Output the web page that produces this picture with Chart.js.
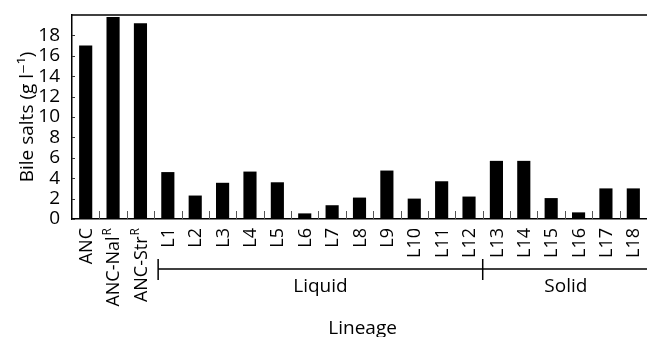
<!DOCTYPE html>
<html><head><meta charset="utf-8">
<script src="https://cdn.jsdelivr.net/npm/chart.js@4"></script>
<style>html,body{margin:0;padding:0;background:#fff}#wrap{width:647px;height:337px}</style>
</head><body><div id="wrap"><canvas id="c" width="647" height="337"></canvas></div>
<script>
const categories = ["ANC","ANC-Nal","ANC-Str","L1","L2","L3","L4","L5","L6","L7","L8","L9","L10","L11","L12","L13","L14","L15","L16","L17","L18"];
const superscripts = ["","R","R","","","","","","","","","","","","","","","","","",""];
const bileSalts = [17.0,19.8,19.2,4.6,2.3,3.55,4.65,3.6,0.55,1.35,2.1,4.75,2.0,3.7,2.2,5.7,5.7,2.05,0.65,3.0,3.0];
const yTicks = [0,2,4,6,8,10,12,14,16,18];
const groups = [{label:"Liquid", from:3, to:14},{label:"Solid", from:15, to:20}];
const FONT = "'Open Sans', 'DejaVu Sans', sans-serif";

const deco = {
  id:'deco',
  afterDraw(chart){
    const ctx = chart.ctx, a = chart.chartArea, xs = chart.scales.x, ys = chart.scales.y;
    const step = xs.getPixelForValue(1) - xs.getPixelForValue(0);
    ctx.save();
    // top frame line
    ctx.strokeStyle = '#000'; ctx.lineWidth = 1.5;
    ctx.beginPath(); ctx.moveTo(a.left, a.top); ctx.lineTo(a.right, a.top); ctx.stroke();
    // inward x ticks between categories
    ctx.strokeStyle = '#555'; ctx.lineWidth = 1;
    for (let i = 1; i < categories.length; i++) {
      const x = Math.round(xs.getPixelForValue(i) - step/2) + 0.5;
      ctx.beginPath(); ctx.moveTo(x, a.bottom); ctx.lineTo(x, a.bottom - 8); ctx.stroke();
    }
    // inward y ticks
    ctx.strokeStyle = '#333';
    yTicks.forEach(v => {
      const y = Math.round(ys.getPixelForValue(v)) + 0.5;
      ctx.beginPath(); ctx.moveTo(a.left, y); ctx.lineTo(a.left + 3, y); ctx.stroke();
    });
    // x category labels (rotated, with superscripts)
    ctx.fillStyle = '#000';
    categories.forEach((lab, i) => {
      const x = xs.getPixelForValue(i);
      ctx.save();
      ctx.translate(x, a.bottom + 9);
      ctx.rotate(-Math.PI/2);
      ctx.textBaseline = 'middle'; ctx.textAlign = 'left';
      ctx.font = "18px " + FONT;
      const wMain = ctx.measureText(lab).width;
      ctx.font = "12px " + FONT;
      const wSup = superscripts[i] ? ctx.measureText(superscripts[i]).width + 1 : 0;
      const total = wMain + wSup;
      ctx.font = "18px " + FONT;
      ctx.fillText(lab, -total, 1);
      if (superscripts[i]) {
        ctx.font = "12px " + FONT;
        ctx.fillText(superscripts[i], -wSup + 1, -5);
      }
      ctx.restore();
    });
    // group brackets
    const lineY = a.bottom + 50;
    ctx.strokeStyle = '#000'; ctx.lineWidth = 1.5;
    const x0 = xs.getPixelForValue(groups[0].from) - step/2 + 4;
    const x1 = xs.getPixelForValue(groups[1].from) - step/2;
    const x2 = chart.width;
    ctx.beginPath(); ctx.moveTo(x0, lineY); ctx.lineTo(x2, lineY); ctx.stroke();
    [x0, x1].forEach(x => { ctx.beginPath(); ctx.moveTo(x, lineY - 10); ctx.lineTo(x, lineY + 11); ctx.stroke(); });
    ctx.fillStyle = '#000'; ctx.font = "19px " + FONT; ctx.textAlign = 'center'; ctx.textBaseline = 'middle';
    ctx.fillText(groups[0].label, (x0 + x1)/2, lineY + 18);
    ctx.fillText(groups[1].label, (x1 + x2)/2 + 1, lineY + 18);
    ctx.fillText("Lineage", (x0 + x2)/2 - 40, lineY + 60);
    ctx.restore();
  }
};

new Chart(document.getElementById('c'), {
  type:'bar',
  data:{ labels:categories, datasets:[{ data:bileSalts, backgroundColor:'#000', borderWidth:0, barPercentage:0.48, categoryPercentage:1.0 }]},
  options:{
    responsive:false, animation:false,
    layout:{ padding:{ top:15, right:0, left:0, bottom:0 } },
    plugins:{ legend:{display:false}, tooltip:{enabled:false} },
    scales:{
      x:{
        offset:true,
        grid:{ display:false },
        border:{ display:true, color:'#000', width:1.5 },
        ticks:{ display:false },
        afterFit(s){ s.height = 118; s.paddingLeft = 0; s.paddingRight = 0; }
      },
      y:{
        min:0, max:20,
        grid:{ display:false },
        border:{ display:true, color:'#000', width:1.5 },
        ticks:{ stepSize:2, autoSkip:false, color:'#000', font:{ family:FONT, size:19 }, padding:4,
          callback:(v) => yTicks.includes(v) ? String(v) : '' },
        title:{ display:true, text:'Bile salts (g l⁻¹)', color:'#000', font:{ family:FONT, size:19 }, padding:{top:16,bottom:0} },
        afterFit(s){ s.width = 72; s.paddingTop = 0; s.paddingBottom = 0; }
      }
    }
  },
  plugins:[deco]
});
</script></body></html>
